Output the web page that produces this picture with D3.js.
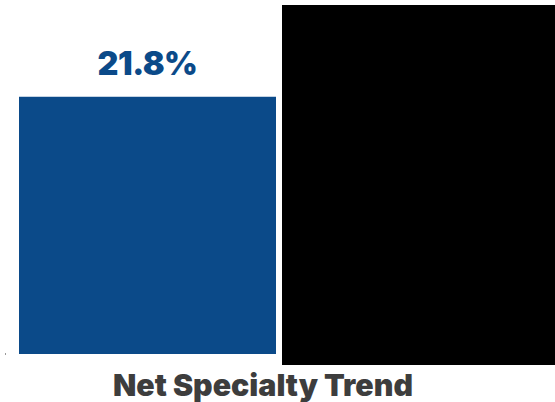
<!DOCTYPE html>
<html><head><meta charset="utf-8">
<script src="https://cdn.jsdelivr.net/npm/d3@7"></script>
<style>html,body{margin:0;padding:0;background:#fff;}svg{display:block;}</style>
</head><body>
<svg id="c" width="555" height="402"></svg>
<script>
const categories = ["Net Specialty Trend"];
const values = [21.8];
const valueLabels = ["21.8%"];
const title = "Net Specialty Trend";

const svg = d3.select("#c");
const x = d3.scaleBand().domain(categories).range([19, 276]).padding(0);
const y = d3.scaleLinear().domain([0, 30]).range([354, 0]);

svg.selectAll("rect.bar").data(values).enter().append("rect")
  .attr("class","bar")
  .attr("x",(d,i)=>x(categories[i]))
  .attr("width",x.bandwidth())
  .attr("y",d=>y(d))
  .attr("height",d=>y(0)-y(d))
  .attr("fill","#0b4a89");

const lbl = svg.selectAll("text.lbl").data(values).enter().append("text")
  .attr("class","lbl")
  .attr("x",(d,i)=>x(categories[i])+x.bandwidth()/2)
  .attr("y",d=>y(d)-22)
  .attr("text-anchor","middle")
  .attr("font-family","Inter, 'Noto Sans', sans-serif")
  .attr("font-weight","900")
  .attr("font-size","34px")
  .attr("letter-spacing","-0.5px")
  .attr("fill","#0b4a89")
  .text((d,i)=>valueLabels[i]);

// redaction block
svg.append("rect").attr("x",282).attr("y",5).attr("width",273).attr("height",360).attr("fill","#000");

// tiny mark at baseline left
svg.append("rect").attr("x",5).attr("y",y(0)-1).attr("width",1).attr("height",2).attr("fill","#999");

const t = svg.append("text")
  .attr("x",263).attr("y",396)
  .attr("text-anchor","middle")
  .attr("font-family","Inter, 'Noto Sans', sans-serif")
  .attr("font-weight","900")
  .attr("font-size","27px")
  .attr("fill","#3d3d3d")
  .text(title);
const w = t.node().getComputedTextLength();
t.attr("font-size", (27*300/w).toFixed(2)+"px");
const lw = lbl.node().getComputedTextLength();
lbl.attr("font-size", (34*100/lw).toFixed(2)+"px");
</script>
</body></html>
